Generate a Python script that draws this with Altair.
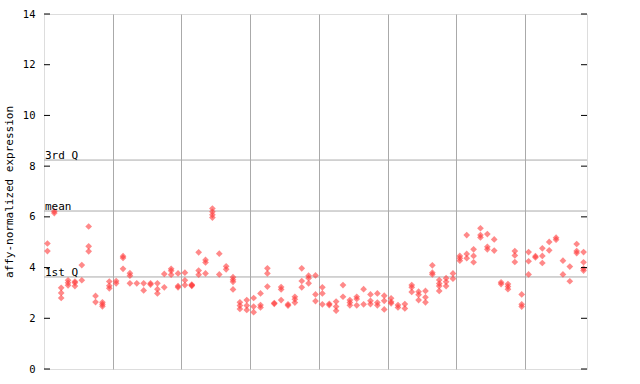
import altair as alt
import pandas as pd

# expression values per sample (replicates), samples 0..78
samples = [
    [4.95, 4.65], [6.22, 6.15], [3.2, 3.0, 2.8], [3.5, 3.4, 3.3], [3.45, 3.4, 3.27],
    [4.1, 3.5], [5.62, 4.84, 4.64], [2.88, 2.64], [2.63, 2.55, 2.47], [3.45, 3.28, 3.18],
    [3.47, 3.38], [4.45, 4.38, 3.95], [3.78, 3.68, 3.38], [3.38], [3.38, 3.1],
    [3.38, 3.33], [3.38, 3.15, 2.98], [3.75, 3.22], [3.95, 3.87, 3.72], [3.77, 3.27, 3.22],
    [3.8, 3.5, 3.31], [3.33, 3.28, 3.3], [4.6, 3.88, 3.72], [4.3, 4.2, 3.77], [6.33, 6.2, 6.08, 5.97],
    [4.55, 3.73], [4.05, 3.93], [3.62, 3.52, 3.44, 3.14], [2.63, 2.5, 2.37], [2.72, 2.5, 2.33],
    [2.8, 2.46, 2.24], [2.98, 2.52, 2.43], [3.97, 3.77, 3.25], [2.6, 2.57], [3.23, 3.14, 2.72],
    [2.55, 2.5], [2.85, 2.75, 2.62], [3.97, 3.47, 3.22], [3.68, 3.58, 3.38], [3.69, 2.94, 2.68],
    [3.22, 2.98, 2.55], [2.57, 2.52], [2.66, 2.46, 2.3], [3.31, 2.85], [2.72, 2.62, 2.51],
    [2.85, 2.76, 2.51], [3.15, 2.55], [2.94, 2.69, 2.56], [2.98, 2.62, 2.51], [2.89, 2.69, 2.35],
    [2.79, 2.65, 2.59], [2.52, 2.43], [2.56, 2.39], [3.31, 3.22, 3.04], [3.05, 2.93, 2.72],
    [3.08, 2.83, 2.63], [4.09, 3.8, 3.73], [3.51, 3.37, 3.27, 3.08], [3.58, 3.44, 3.27], [3.77, 3.56],
    [4.46, 4.37, 4.27], [5.28, 4.54, 4.37], [4.72, 4.46, 4.21], [5.55, 5.28, 5.19], [5.32, 4.82, 4.72],
    [5.11, 4.67], [3.42, 3.35], [3.35, 3.25, 3.15], [4.65, 4.48, 4.22], [2.94, 2.55, 2.46],
    [4.61, 4.25, 3.73], [4.45, 4.4], [4.76, 4.46, 4.18], [5.01, 4.68], [5.18, 5.1],
    [4.27, 3.73], [4.04, 3.46], [4.93, 4.65, 4.57], [4.61, 4.21, 3.96, 3.88],
]

stat_labels = ["3rd Q", "mean", "1st Q"]
stat_values = [8.24, 6.23, 3.63]
y_ticks = [0, 2, 4, 6, 8, 10, 12, 14]
group_bounds = [9.5, 19.5, 29.5, 39.5, 49.5, 59.5, 69.5]

rows = []
for i, vals in enumerate(samples):
    for v in vals:
        rows.append({"sample": i, "value": v})
df = pd.DataFrame(rows)
stats = pd.DataFrame({"label": stat_labels, "value": stat_values})
ticks = pd.DataFrame({"value": y_ticks})

W, H = 543, 355
FONT = "DejaVu Sans Mono"

xs = alt.Scale(domain=[-0.5, 78.5], nice=False, zero=False)
ys = alt.Scale(domain=[0, 14], nice=False, zero=True)

points = alt.Chart(df).mark_point(
    shape="diamond", filled=True, size=45, opacity=0.6, color="#ff3b3b"
).encode(
    x=alt.X("sample:Q", scale=xs,
            axis=alt.Axis(values=group_bounds, grid=True, gridColor="#aaaaaa",
                          labels=False, ticks=False, domain=False, title=None)),
    y=alt.Y("value:Q", scale=ys,
            axis=alt.Axis(values=y_ticks, grid=False, tickSize=0, domain=False,
                          labelPadding=9, labelFont=FONT, labelFontSize=10.5,
                          labelColor="black",
                          title="affy-normalized expression", titleFont=FONT,
                          titleFontSize=11, titleFontWeight="normal",
                          titleColor="black", titlePadding=8)),
)

qlines = alt.Chart(stats).mark_rule(color="#aaaaaa", strokeWidth=1).encode(
    y=alt.Y("value:Q", scale=ys)
)

qtext = alt.Chart(stats).mark_text(
    align="left", baseline="bottom", dx=1, dy=1, font=FONT, fontSize=11, color="black"
).encode(
    x=alt.value(0),
    y=alt.Y("value:Q", scale=ys),
    text="label:N",
)

lticks = alt.Chart(ticks).mark_rule(color="black").encode(
    x=alt.value(0), x2=alt.value(6), y=alt.Y("value:Q", scale=ys)
)
rticks = alt.Chart(ticks).mark_rule(color="black").encode(
    x=alt.value(W - 6), x2=alt.value(W), y=alt.Y("value:Q", scale=ys)
)

chart = alt.layer(qlines, points, lticks, rticks, qtext).properties(
    width=W, height=H,
    autosize=alt.AutoSizeParams(type="none"),
    padding={"left": 44, "top": 14, "right": 53, "bottom": 15},
).configure_view(stroke="black", strokeWidth=1).configure(background="white")

chart.save("out.html", embed_options={"renderer": "svg", "actions": False})
